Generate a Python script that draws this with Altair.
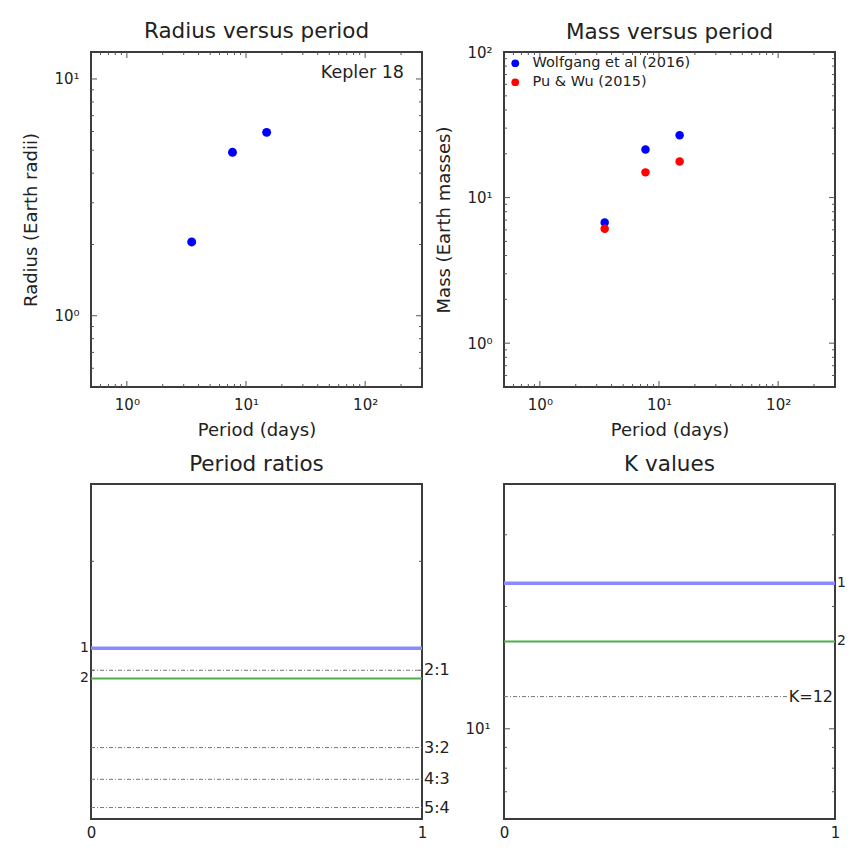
import altair as alt
import pandas as pd

# ---------------- data ----------------
periods = [3.5, 7.7, 14.9]
radii = [2.05, 4.9, 5.95]
mass_wolfgang = [6.74, 21.4, 26.8]
mass_puwu = [6.12, 14.9, 17.7]
mass_sources = ["Wolfgang et al (2016)", "Pu & Wu (2015)"]
system_name = ["Kepler 18"]

planet_labels = ["1", "2"]
planet_period_ratios = [2.17, 1.94]
resonance_labels = ["2:1", "3:2", "4:3", "5:4"]
resonance_ratios = [2.0, 1.5, 1.333, 1.2]
k_values = [22.8, 16.4]
k_threshold_label = ["K=12"]
k_threshold = [12]
line_span = [0, 1]
k_line_span = [0, 0.86]

# axis tick positions
log_major = [1, 10, 100]
x_minor = [0.6, 0.7, 0.8, 0.9, 2, 3, 4, 5, 6, 7, 8, 9,
           20, 30, 40, 50, 60, 70, 80, 90, 200]
radius_minor = [0.6, 0.7, 0.8, 0.9, 2, 3, 4, 5, 6, 7, 8, 9]
mass_minor = [0.6, 0.7, 0.8, 0.9, 2, 3, 4, 5, 6, 7, 8, 9,
              20, 30, 40, 50, 60, 70, 80, 90]
ratio_minor = [2, 3]
k_major = [10]
k_minor = [7, 8, 9, 20, 30]

# ---------------- styling ----------------
W, H = 331, 335
FONT = "DejaVu Sans"
TXT = "#222222"
TICK = "#555555"
BLUE_LINE = "#8a8aff"
GREEN_LINE = "#4caf4c"
SUP = ("datum.value == 1 ? '10\u2070' : datum.value == 10 ? '10\u00b9' : "
       "datum.value == 100 ? '10\u00b2' : ''")

x_period_scale = alt.Scale(type="log", domain=[0.5, 300])
y_radius_scale = alt.Scale(type="log", domain=[0.5, 13])
y_mass_scale = alt.Scale(type="log", domain=[0.5, 100])
y_ratio_scale = alt.Scale(type="log", domain=[1.15, 4])
y_k_scale = alt.Scale(type="log", domain=[6, 40])
x_unit_scale = alt.Scale(domain=[0, 1])

x_period_axis = alt.Axis(title="Period (days)", values=log_major, labelExpr=SUP,
                         labelPadding=10, titlePadding=9)
radius_axis = alt.Axis(title="Radius (Earth radii)", values=[1, 10], labelExpr=SUP,
                       labelPadding=12, titlePadding=13)
mass_axis = alt.Axis(title="Mass (Earth masses)", values=log_major, labelExpr=SUP,
                     labelPadding=12, titlePadding=13)
k_axis = alt.Axis(title=None, values=k_major, labelExpr=SUP, labelPadding=14)
unit_axis = alt.Axis(title=None, values=[0, 1], labelPadding=6, format="d")


def tick_layers(values, channel, scale, axis, length):
    df = pd.DataFrame({"v": values})
    base = alt.Chart(df).mark_rule(color=TICK, strokeWidth=1)
    if channel == "x":
        enc = alt.X("v:Q", scale=scale, axis=axis)
        return [base.encode(x=enc, y=alt.value(H - length), y2=alt.value(H)),
                base.encode(x=enc, y=alt.value(0), y2=alt.value(length))]
    enc = alt.Y("v:Q", scale=scale, axis=axis)
    return [base.encode(y=enc, x=alt.value(0), x2=alt.value(length)),
            base.encode(y=enc, x=alt.value(W - length), x2=alt.value(W))]


# ---------------- panel 1: radius vs period ----------------
df_radius = pd.DataFrame({"period": periods, "radius": radii})
radius_pts = alt.Chart(df_radius).mark_circle(size=80, color="blue", opacity=1).encode(
    x=alt.X("period:Q", scale=x_period_scale, axis=x_period_axis),
    y=alt.Y("radius:Q", scale=y_radius_scale, axis=radius_axis),
)
name_text = alt.Chart(pd.DataFrame({"name": system_name})).mark_text(
    align="right", baseline="middle", font=FONT, fontSize=17.5, color=TXT
).encode(x=alt.value(W - 18), y=alt.value(21), text="name:N")

p1 = alt.layer(
    radius_pts,
    *tick_layers(log_major, "x", x_period_scale, x_period_axis, 6),
    *tick_layers(x_minor, "x", x_period_scale, x_period_axis, 3),
    *tick_layers([1, 10], "y", y_radius_scale, radius_axis, 6),
    *tick_layers(radius_minor, "y", y_radius_scale, radius_axis, 3),
    name_text,
).properties(width=W, height=H, title="Radius versus period")

# ---------------- panel 2: mass vs period ----------------
df_mass = pd.DataFrame({
    "period": periods + periods,
    "mass": mass_wolfgang + mass_puwu,
    "source": [mass_sources[0]] * 3 + [mass_sources[1]] * 3,
})
mass_pts = alt.Chart(df_mass).mark_circle(size=72, opacity=1).encode(
    x=alt.X("period:Q", scale=x_period_scale, axis=x_period_axis),
    y=alt.Y("mass:Q", scale=y_mass_scale, axis=mass_axis),
    color=alt.Color("source:N",
                    scale=alt.Scale(domain=mass_sources, range=["blue", "red"]),
                    legend=alt.Legend(orient="top-left", title=None, offset=1,
                                      padding=3, rowPadding=4, labelFontSize=14.5,
                                      labelFont=FONT, labelColor=TXT,
                                      labelLimit=400,
                                      symbolSize=60, symbolType="circle",
                                      labelOffset=10)),
)
p2 = alt.layer(
    mass_pts,
    *tick_layers(log_major, "x", x_period_scale, x_period_axis, 6),
    *tick_layers(x_minor, "x", x_period_scale, x_period_axis, 3),
    *tick_layers([1, 10], "y", y_mass_scale, mass_axis, 6),
    *tick_layers(mass_minor, "y", y_mass_scale, mass_axis, 3),
).properties(width=W, height=H,
             title=alt.TitleParams("Mass versus period", offset=1.5))

# ---------------- panel 3: period ratios ----------------
df_planets = pd.DataFrame({
    "label": planet_labels, "ratio": planet_period_ratios,
    "k": k_values, "x0": line_span[0], "x1": line_span[1],
})
df_res = pd.DataFrame({
    "label": resonance_labels, "ratio": resonance_ratios,
    "x0": line_span[0], "x1": line_span[1],
})
line_color = alt.Color("label:N", scale=alt.Scale(domain=planet_labels,
                                                  range=[BLUE_LINE, GREEN_LINE]),
                       legend=None)
line_width = alt.StrokeWidth("label:N", scale=alt.Scale(domain=planet_labels,
                                                        range=[3.5, 2]),
                             legend=None)

res_lines = alt.Chart(df_res).mark_rule(
    color="#777777", strokeWidth=1, strokeDash=[4, 2, 1, 2]
).encode(
    x=alt.X("x0:Q", scale=x_unit_scale, axis=unit_axis), x2="x1:Q",
    y=alt.Y("ratio:Q", scale=y_ratio_scale, axis=None),
)
res_text = alt.Chart(df_res).mark_text(
    align="left", baseline="middle", font=FONT, fontSize=16, color=TXT
).encode(y=alt.Y("ratio:Q", scale=y_ratio_scale, axis=None),
         x=alt.value(W + 2), text="label:N")
ratio_lines = alt.Chart(df_planets).mark_rule().encode(
    x=alt.X("x0:Q", scale=x_unit_scale, axis=unit_axis), x2="x1:Q",
    y=alt.Y("ratio:Q", scale=y_ratio_scale, axis=None),
    color=line_color, strokeWidth=line_width,
)
ratio_text = alt.Chart(df_planets).mark_text(
    align="right", baseline="middle", font=FONT, fontSize=14, color=TXT
).encode(y=alt.Y("ratio:Q", scale=y_ratio_scale, axis=None),
         x=alt.value(-2), text="label:N")

p3 = alt.layer(
    res_lines, ratio_lines, res_text, ratio_text,
    *tick_layers(ratio_minor, "y", y_ratio_scale, None, 3),
).properties(width=W, height=H, title="Period ratios")

# ---------------- panel 4: K values ----------------
df_k = pd.DataFrame({"label": k_threshold_label, "k": k_threshold,
                     "x0": k_line_span[0], "x1": k_line_span[1]})
k_thr_line = alt.Chart(df_k).mark_rule(
    color="#777777", strokeWidth=1, strokeDash=[4, 2, 1, 2]
).encode(
    x=alt.X("x0:Q", scale=x_unit_scale, axis=unit_axis), x2="x1:Q",
    y=alt.Y("k:Q", scale=y_k_scale, axis=k_axis),
)
k_thr_text = alt.Chart(df_k).mark_text(
    align="right", baseline="middle", font=FONT, fontSize=16, color=TXT
).encode(y=alt.Y("k:Q", scale=y_k_scale, axis=k_axis),
         x=alt.value(W - 2), text="label:N")
k_lines = alt.Chart(df_planets).mark_rule().encode(
    x=alt.X("x0:Q", scale=x_unit_scale, axis=unit_axis), x2="x1:Q",
    y=alt.Y("k:Q", scale=y_k_scale, axis=k_axis),
    color=line_color, strokeWidth=line_width,
)
k_text = alt.Chart(df_planets).mark_text(
    align="left", baseline="middle", font=FONT, fontSize=14, color=TXT
).encode(y=alt.Y("k:Q", scale=y_k_scale, axis=k_axis),
         x=alt.value(W + 2), text="label:N")

p4 = alt.layer(
    k_thr_line, k_lines, k_thr_text, k_text,
    *tick_layers(k_major, "y", y_k_scale, k_axis, 6),
    *tick_layers(k_minor, "y", y_k_scale, k_axis, 3),
).properties(width=W, height=H, title="K values")

# ---------------- assemble ----------------
chart = alt.concat(
    p1, p2, p3, p4, columns=2, spacing={"row": 97, "column": 82}, bounds="flush"
).resolve_scale(
    x="independent", y="independent", color="independent", strokeWidth="independent"
).properties(
    padding={"left": 13, "top": 12, "right": 0, "bottom": 0},
    background="white",
).configure_view(
    stroke="#3c3c3c", strokeWidth=2
).configure_axis(
    grid=False, ticks=False, domain=False, labelFlush=False,
    labelFont=FONT, labelFontSize=15, labelColor=TXT,
    titleFont=FONT, titleFontSize=18, titleFontWeight="normal", titleColor=TXT,
).configure_title(
    font=FONT, fontSize=21.5, fontWeight="normal", color=TXT, offset=9,
    baseline="alphabetic", frame="group",
)

chart.save("out.html", embed_options={"renderer": "svg", "actions": False})
